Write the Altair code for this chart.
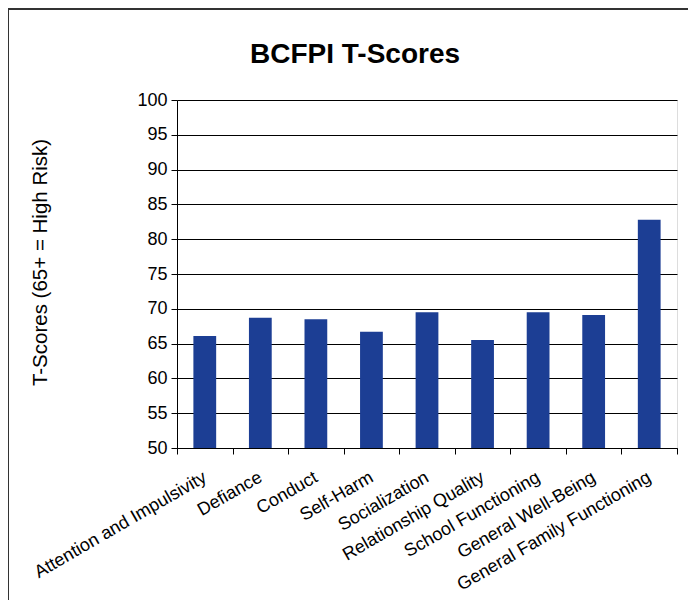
import altair as alt
import pandas as pd

categories = [
    "Attention and Impulsivity", "Defiance", "Conduct", "Self-Harm",
    "Socialization", "Relationship Quality", "School Functioning",
    "General Well-Being", "General Family Functioning",
]
t_scores = [66.1, 68.7, 68.5, 66.7, 69.5, 65.5, 69.5, 69.1, 82.8]
y_ticks = [50, 55, 60, 65, 70, 75, 80, 85, 90, 95, 100]
chart_title = "BCFPI T-Scores"

df = pd.DataFrame({"category": categories, "score": t_scores})
FONT = "Liberation Sans"

bars = alt.Chart(df).mark_bar(
    width=alt.RelativeBandSize(0.41), color="#1C3E94", clip=True
).encode(
    x=alt.X(
        "category:N", sort=categories, title=None,
        scale=alt.Scale(paddingInner=0, paddingOuter=0),
        axis=alt.Axis(
            tickBand="extent", labelAngle=-30, labelAlign="right",
            labelBaseline="middle", labelPadding=22, labelFontSize=18,
            labelFont=FONT, labelColor="#000", tickColor="#000", tickSize=6,
            domainColor="#000", grid=False, labelLimit=400,
        ),
    ),
    y=alt.Y(
        "score:Q", title="T-Scores (65+ = High Risk)",
        scale=alt.Scale(domain=[50, 100], nice=False, zero=False),
        axis=alt.Axis(
            values=y_ticks, grid=True, gridColor="#000", gridOpacity=1,
            domainColor="#000", tickColor="#000", tickSize=6,
            labelFont=FONT, labelFontSize=18, labelColor="#000", labelPadding=4,
            titleFont=FONT, titleFontSize=20.5, titleFontWeight="normal",
            titleColor="#000", titlePadding=86, titleY=162,
        ),
    ),
)

title = alt.Chart(alt.Data(values=[{"t": chart_title}])).mark_text(
    font=FONT, fontSize=28, fontWeight="bold", color="#000",
    align="center", baseline="middle",
).encode(
    text="t:N", x=alt.value(178), y=alt.value(-45),
)

frame = alt.Chart(alt.Data(values=[{"a": 1}])).mark_rect(
    fillOpacity=0, stroke="#333", strokeWidth=2
).encode(
    x=alt.value(-169), x2=alt.value(700),
    y=alt.value(-91), y2=alt.value(700),
)

chart = alt.layer(bars, title, frame).properties(
    width=500, height=348,
    autosize=alt.AutoSizeParams(type="none"),
    padding={"left": 169, "top": 92, "right": 11, "bottom": 152},
).configure_view(stroke="#000", strokeWidth=1).configure(background="white")

chart.save("out.html", embed_options={"renderer": "svg", "actions": False})
